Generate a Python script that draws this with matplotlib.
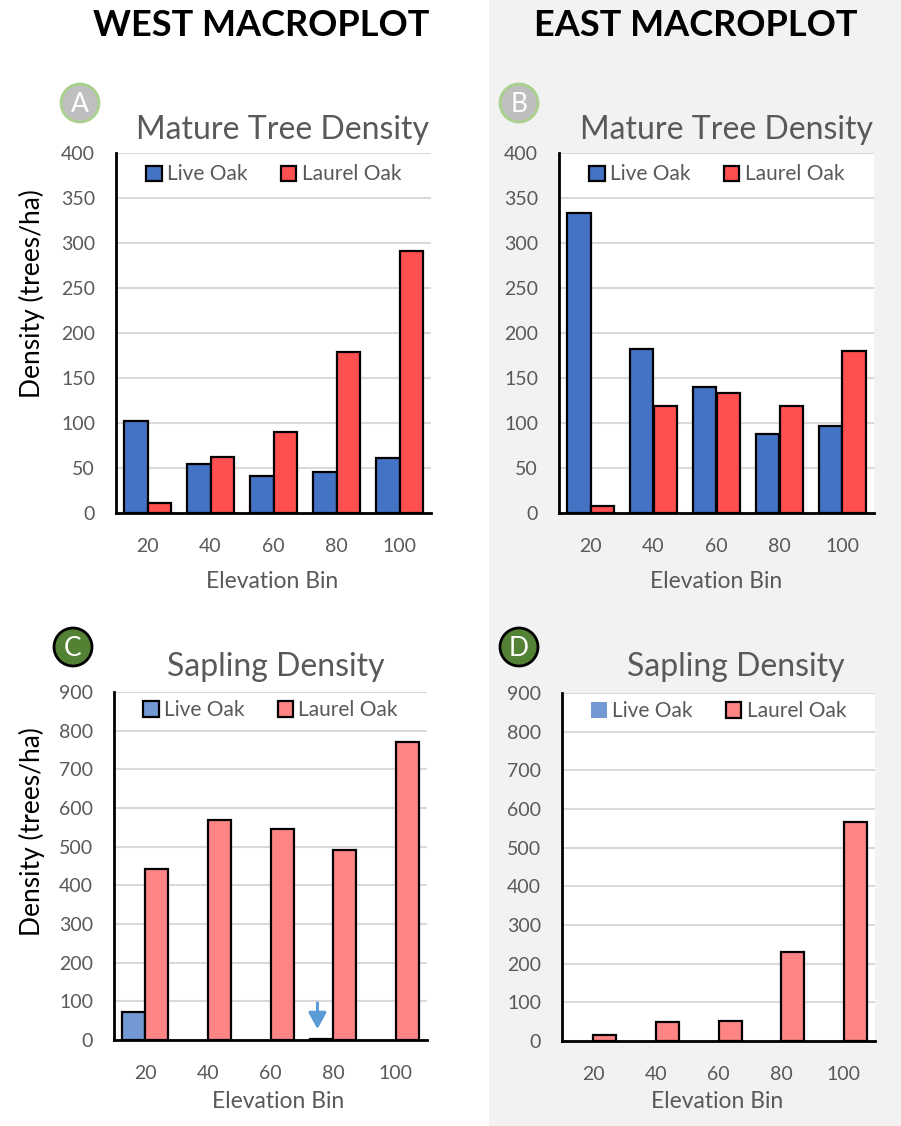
import numpy as np
import matplotlib.pyplot as plt
from matplotlib.patches import Rectangle, Circle, Patch

# elevation bins (m)
bins = ["20", "40", "60", "80", "100"]

# mature tree density, trees/ha
west_mature_live = [102, 55, 41, 46, 61]
west_mature_laurel = [11, 62, 90, 179, 291]
east_mature_live = [333, 182, 140, 88, 97]
east_mature_laurel = [8, 119, 133, 119, 180]

# sapling density, trees/ha
west_sapling_live = [72, 0, 0, 3, 0]
west_sapling_laurel = [442, 569, 546, 492, 770]
east_sapling_live = [0, 0, 0, 0, 0]
east_sapling_laurel = [15, 49, 52, 231, 566]

W, H = 901, 1126
plt.rcParams["font.family"] = ["Lato", "DejaVu Sans"]

GRAY_TXT = "#595959"
BLUE = "#4472C4"
RED = "#FF4F4F"
BLUE_LT = "#7399D4"
RED_LT = "#FF8585"

fig = plt.figure(figsize=(W / 100, H / 100), dpi=100)
fig.patch.set_facecolor("white")
# shaded half for the east plot
fig.patches.append(Rectangle((489 / W, 0), (W - 489) / W, 1, transform=fig.transFigure,
                             facecolor="#F2F2F2", edgecolor="none", zorder=-10))


def px_axes(l, t, r, b):
    return fig.add_axes([l / W, 1 - b / H, (r - l) / W, (b - t) / H])


def ftext(x, y, s, **kw):
    fig.text(x / W, 1 - y / H, s, **kw)


def badge(x, y, letter, face, edge):
    # inches-based transform keeps the circle round
    c = Circle((x / 100, (H - y) / 100), 0.19, transform=fig.dpi_scale_trans,
               facecolor=face, edgecolor=edge, linewidth=2)
    fig.patches.append(c)
    ftext(x, y + 1, letter, color="white", fontsize=19, ha="center", va="center")


def bar_panel(ax, live, laurel, ymax, step, c_live, c_laurel, leg_pad, live_edge=True):
    x = np.arange(len(bins))
    w = 0.37
    # empty bins get no outline
    live_ec = ["black" if (v > 0 and live_edge) else "none" for v in live]
    laurel_ec = ["black" if v > 0 else "none" for v in laurel]
    ax.bar(x - w / 2, live, w, color=c_live, edgecolor=live_ec, linewidth=1.6, zorder=3)
    ax.bar(x + w / 2, laurel, w, color=c_laurel, edgecolor=laurel_ec, linewidth=1.6, zorder=3)
    ax.set_xlim(-0.5, len(bins) - 0.5)
    ax.set_ylim(0, ymax)
    ax.set_yticks(np.arange(0, ymax + 1, step))
    ax.set_xticks(x)
    ax.set_xticklabels(bins)
    ax.set_facecolor("white")
    ax.grid(axis="y", color="#D9D9D9", linewidth=1.5, zorder=0)
    ax.set_axisbelow(True)
    for s in ["top", "right"]:
        ax.spines[s].set_visible(False)
    for s in ["left", "bottom"]:
        ax.spines[s].set_color("black")
        ax.spines[s].set_linewidth(2)
        ax.spines[s].set_zorder(4)
    ax.tick_params(axis="both", length=0, labelsize=14, labelcolor=GRAY_TXT)
    ax.tick_params(axis="y", pad=15)
    ax.tick_params(axis="x", pad=18)
    handles = [Patch(facecolor=c_live, edgecolor="black" if live_edge else "none", linewidth=1.6),
               Patch(facecolor=c_laurel, edgecolor="black", linewidth=1.6)]
    leg = ax.legend(handles, ["Live Oak", "Laurel Oak"], loc="upper center",
                    bbox_to_anchor=(0.5, 1.0), ncol=2, frameon=False, fontsize=15,
                    handlelength=0.75, handleheight=0.75, handletextpad=0.25,
                    columnspacing=1.6, borderaxespad=leg_pad)
    for t in leg.get_texts():
        t.set_color(GRAY_TXT)


axA = px_axes(116, 153, 431, 513)
axB = px_axes(559, 153, 874, 513)
axC = px_axes(114, 692, 427, 1040)
axD = px_axes(562, 693, 875, 1041)

bar_panel(axA, west_mature_live, west_mature_laurel, 400, 50, BLUE, RED, 0.15)
bar_panel(axB, east_mature_live, east_mature_laurel, 400, 50, BLUE, RED, 0.15)
bar_panel(axC, west_sapling_live, west_sapling_laurel, 900, 100, BLUE_LT, RED_LT, 0.0)
bar_panel(axD, east_sapling_live, east_sapling_laurel, 900, 100, BLUE_LT, RED_LT, 0.0,
          live_edge=False)

# arrow marking the tiny live oak sapling count at 80 m
axC.annotate("", xy=(3 - 0.25, 28), xytext=(3 - 0.25, 96),
             arrowprops=dict(arrowstyle="-|>,head_length=0.55,head_width=0.3",
                             color="#5B9BD5", lw=2.2, mutation_scale=18,
                             shrinkA=0, shrinkB=0),
             zorder=5)

# headers
ftext(261, 26, "WEST MACROPLOT", fontsize=26, fontweight="bold", ha="center", va="center")
ftext(696, 26, "EAST MACROPLOT", fontsize=26, fontweight="bold", ha="center", va="center")

# panel titles
ftext(283, 130, "Mature Tree Density", fontsize=23, color=GRAY_TXT, ha="center", va="center")
ftext(726, 130, "Mature Tree Density", fontsize=23, color=GRAY_TXT, ha="center", va="center")
ftext(276, 667, "Sapling Density", fontsize=23, color=GRAY_TXT, ha="center", va="center")
ftext(736, 667, "Sapling Density", fontsize=23, color=GRAY_TXT, ha="center", va="center")

# axis labels
for xc, yc in [(272, 582), (716, 582), (278, 1102), (717, 1102)]:
    ftext(xc, yc, "Elevation Bin", fontsize=16.5, color=GRAY_TXT, ha="center", va="center")
ftext(32, 294, "Density (trees/ha)", fontsize=19, rotation=90, ha="center", va="center")
ftext(32, 832, "Density (trees/ha)", fontsize=19, rotation=90, ha="center", va="center")

# panel badges
badge(80, 103, "A", "#BFBFBF", "#A9D18E")
badge(519, 103, "B", "#BFBFBF", "#A9D18E")
badge(73, 647, "C", "#548235", "black")
badge(519, 647, "D", "#548235", "black")

fig.savefig("out.png", dpi=100)
